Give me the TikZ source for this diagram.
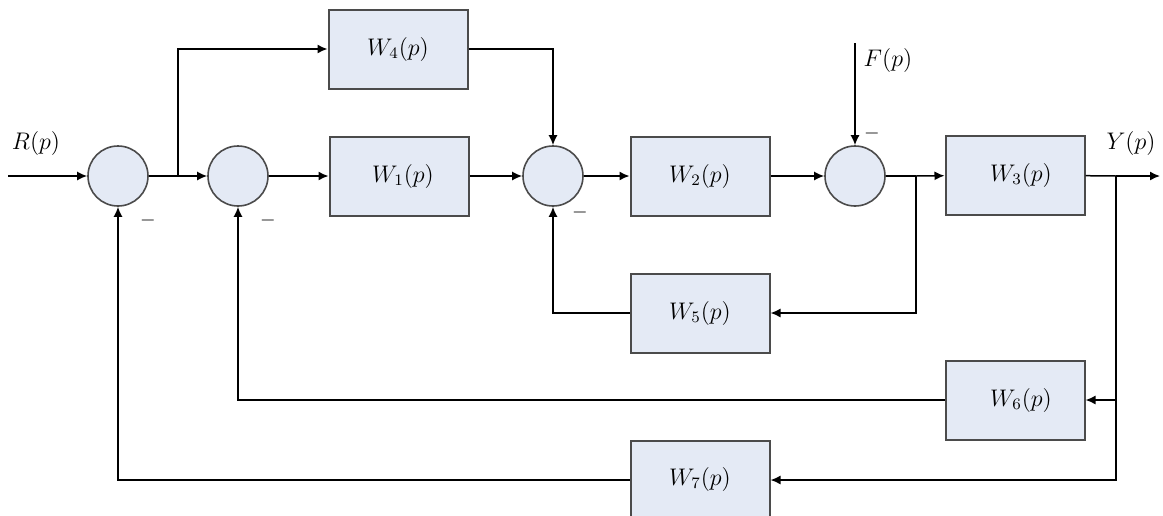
\documentclass[tikz,border=0pt]{standalone}
\usetikzlibrary{arrows.meta}
\definecolor{blkfill}{RGB}{228,234,245}
\definecolor{blkdraw}{RGB}{75,75,75}
\tikzset{
  blk/.style={draw=blkdraw, line width=1pt, fill=blkfill, minimum width=69.5pt,
    minimum height=39.5pt, inner sep=0pt, font=\large},
  sumj/.style={circle, draw=blkdraw, line width=0.8pt, fill=blkfill,
    minimum size=30pt, inner sep=0pt},
  sig/.style={-{Latex[length=5pt,width=4.5pt]}, line width=0.75pt},
  ln/.style={line width=0.75pt},
  sgn/.style={font=\normalsize, inner sep=0pt},
}
\begin{document}
\begin{tikzpicture}[x=0.5pt, y=-0.5pt]
    \useasboundingbox (0,0) rectangle (1163,515);
    % summing junctions
    \node[sumj] (s1) at (118,176) {};
    \node[sumj] (s2) at (238,176) {};
    \node[sumj] (s3) at (553,176) {};
    \node[sumj] (s4) at (855,176) {};
    % blocks
    \node[blk] (w4) at (398,49) {$W_4(p)$};
    \node[blk] (w1) at (399,176) {\hspace*{4pt}$W_1(p)$};
    \node[blk] (w2) at (700,176) {$W_2(p)$};
    \node[blk] (w3) at (1015,175) {\hspace*{6pt}$W_3(p)$};
    \node[blk] (w5) at (700,313) {\raisebox{3pt}{$W_5(p)$}};
    \node[blk] (w6) at (1015,400) {\hspace*{6pt}$W_6(p)$};
    \node[blk] (w7) at (700,480) {\raisebox{4pt}{$W_7(p)$}};
    % branch points and free ends
    \coordinate (in) at (8,176);
    \coordinate (b1) at (178,176);
    \coordinate (b2) at (916,176);
    \coordinate (b3) at (1116,176);
    \coordinate (out) at (1160,176);
    \coordinate (f) at (855,43);
    % forward path
    \draw[sig] (in) -- (s1);
    \draw[ln] (s1) -- (b1);
    \draw[sig] (b1) -- (s2);
    \draw[sig] (b1) |- (w4);
    \draw[sig] (w4) -| (s3);
    \draw[sig] (s2) -- (w1);
    \draw[sig] (w1) -- (s3);
    \draw[sig] (s3) -- (w2);
    \draw[sig] (w2) -- (s4);
    \draw[sig] (f) -- (s4);
    \draw[ln] (s4) -- (b2);
    \draw[sig] (b2) -- (w3);
    \draw[ln] (w3) -- (b3);
    \draw[sig] (b3) -- (out);
    % feedback paths
    \draw[sig] (b2) |- (w5);
    \draw[sig] (w5) -| (s3);
    \draw[sig] (b3) |- (w6);
    \draw[sig] (w6) -| (s2);
    \draw[sig] (b3) |- (w7);
    \draw[sig] (w7) -| (s1);
    % signals and signs
    \node (rp) at (36,143) {\large $R(p)$};
    \node (fp) at (888,60) {\large $F(p)$};
    \node (yp) at (1131,143) {\large $Y(p)$};
    \node[sgn] (m1) at (148,220) {$-$};
    \node[sgn] (m2) at (268,220) {$-$};
    \node[sgn] (m3) at (580,212) {$-$};
    \node[sgn] (m4) at (872,133) {$-$};
\end{tikzpicture}
\end{document}
